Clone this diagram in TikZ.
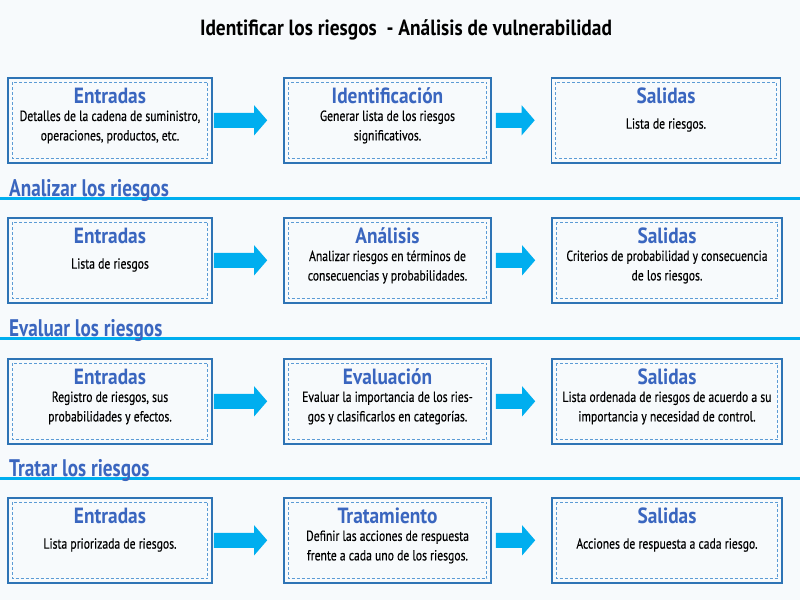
\documentclass[tikz,border=0pt]{standalone}
\usepackage{fontspec}
\setmainfont{PT Sans}[FakeStretch=0.8]
\newfontfamily\headfont{PT Sans}[FakeStretch=0.88]
\newfontfamily\bodyfont{PT Sans}[FakeStretch=0.8, FakeBold=0.4]
\usetikzlibrary{calc}
\definecolor{bgc}{HTML}{F7FAFC}
\definecolor{headblue}{HTML}{3A66BF}
\definecolor{borderblue}{HTML}{2E74B5}
\definecolor{dashblue}{HTML}{5B9BD5}
\definecolor{arrowblue}{HTML}{00AEEF}
\tikzset{
  boxframe/.style={draw=borderblue, line width=1.6pt, fill=bgc, inner sep=0pt},
  headtext/.style={font=\headfont\bfseries\fontsize{22}{24}\selectfont, text=headblue, inner sep=0pt},
  bodytext/.style={font=\bodyfont\fontsize{14.6}{19.5}\selectfont, text=black, align=center, inner sep=0pt},
  sectitle/.style={font=\bfseries\fontsize{24}{26}\selectfont, text=headblue, anchor=base west, inner sep=0pt},
  secline/.style={draw=arrowblue, line width=3pt},
  arrowshape/.style={fill=arrowblue, draw=none},
}
\newcommand{\procbox}[6]{% name, cx, top, width, heading, body
  \node[boxframe, minimum width=#4pt, minimum height=85pt, anchor=north] (#1) at (#2,#3) {};
  \draw[dashblue, dashed, line width=0.8pt, dash pattern=on 3pt off 2pt] ($(#1.north west)+(5,5)$) rectangle ($(#1.south east)+(-5,-5)$);
  \node[headtext] (#1h) at ($(#1.north)+(0,19)$) {#5};
  \node[bodytext] (#1b) at ($(#1.north)+(0,50)$) {#6};
}
\newcommand{\blockarrow}[3]{% from, to, gapfrom
  \path let \p1=(#1.east), \p2=(#2.west) in
    coordinate (sa) at (\x1+#3,\y1) coordinate (ea) at (\x2-16,\y2);
  \fill[arrowshape] let \p1=(sa), \p2=(ea) in
    (\x1,\y1-7.5) -- (\x2-13,\y1-7.5) -- (\x2-13,\y1-15) -- (\x2,\y1) -- (\x2-13,\y1+15) -- (\x2-13,\y1+7.5) -- (\x1,\y1+7.5) -- cycle;
}
\begin{document}
\begin{tikzpicture}[x=1pt,y=-1pt]
\fill[bgc] (0,0) rectangle (800,600);
\useasboundingbox (0,0) rectangle (800,600);

\node[font=\headfont\bfseries\fontsize{22}{24}\selectfont, inner sep=0pt] (title) at (406,30) {Identificar los riesgos \ - Análisis de vulnerabilidad};

% Row 1
\procbox{a1}{110}{77}{204}{Entradas}{Detalles de la cadena de suministro,\\operaciones, productos, etc.}
\procbox{b1}{387.5}{77}{207}{Identificación}{Generar lista de los riesgos\\significativos.}
\procbox{c1}{666}{77}{229}{Salidas}{}
\node[bodytext] at ($(c1.north)+(0,48)$) {Lista de riesgos.};

% Section 2
\draw[secline] (0,198) -- (800,198);
\node[sectitle] (s2) at (9,196) {Analizar los riesgos};
\procbox{a2}{110}{217}{204}{Entradas}{}
\node[bodytext] at ($(a2.north)+(0,48)$) {Lista de riesgos};
\procbox{b2}{387.5}{217}{207}{Análisis}{Analizar riesgos en términos de\\consecuencias y probabilidades.}
\procbox{c2}{667}{217}{230}{Salidas}{Criterios de probabilidad y consecuencia\\de los riesgos.}

% Section 3
\draw[secline] (0,338) -- (800,338);
\node[sectitle] (s3) at (9,336) {Evaluar los riesgos};
\procbox{a3}{110}{358}{204}{Entradas}{Registro de riesgos, sus\\probabilidades y efectos.}
\procbox{b3}{387.5}{358}{207}{Evaluación}{Evaluar la importancia de los ries-\\gos y clasificarlos en categorías.}
\procbox{c3}{667}{358}{230}{Salidas}{Lista ordenada de riesgos de acuerdo a su\\importancia y necesidad de control.}

% Section 4
\draw[secline] (0,478) -- (800,478);
\node[sectitle] (s4) at (9,476) {Tratar los riesgos};
\procbox{a4}{110}{497}{204}{Entradas}{}
\node[bodytext] at ($(a4.north)+(0,48)$) {Lista priorizada de riesgos.};
\procbox{b4}{387.5}{497}{207}{Tratamiento}{Definir las acciones de respuesta\\frente a cada uno de los riesgos.}
\procbox{c4}{667}{497}{230}{Salidas}{}
\node[bodytext] at ($(c4.north)+(0,48)$) {Acciones de respuesta a cada riesgo.};

% Arrows
\blockarrow{a1}{b1}{1}
\blockarrow{b1}{c1}{4}
\blockarrow{a2}{b2}{1}
\blockarrow{b2}{c2}{4}
\blockarrow{a3}{b3}{1}
\blockarrow{b3}{c3}{4}
\blockarrow{a4}{b4}{1}
\blockarrow{b4}{c4}{4}
\end{tikzpicture}
\end{document}
